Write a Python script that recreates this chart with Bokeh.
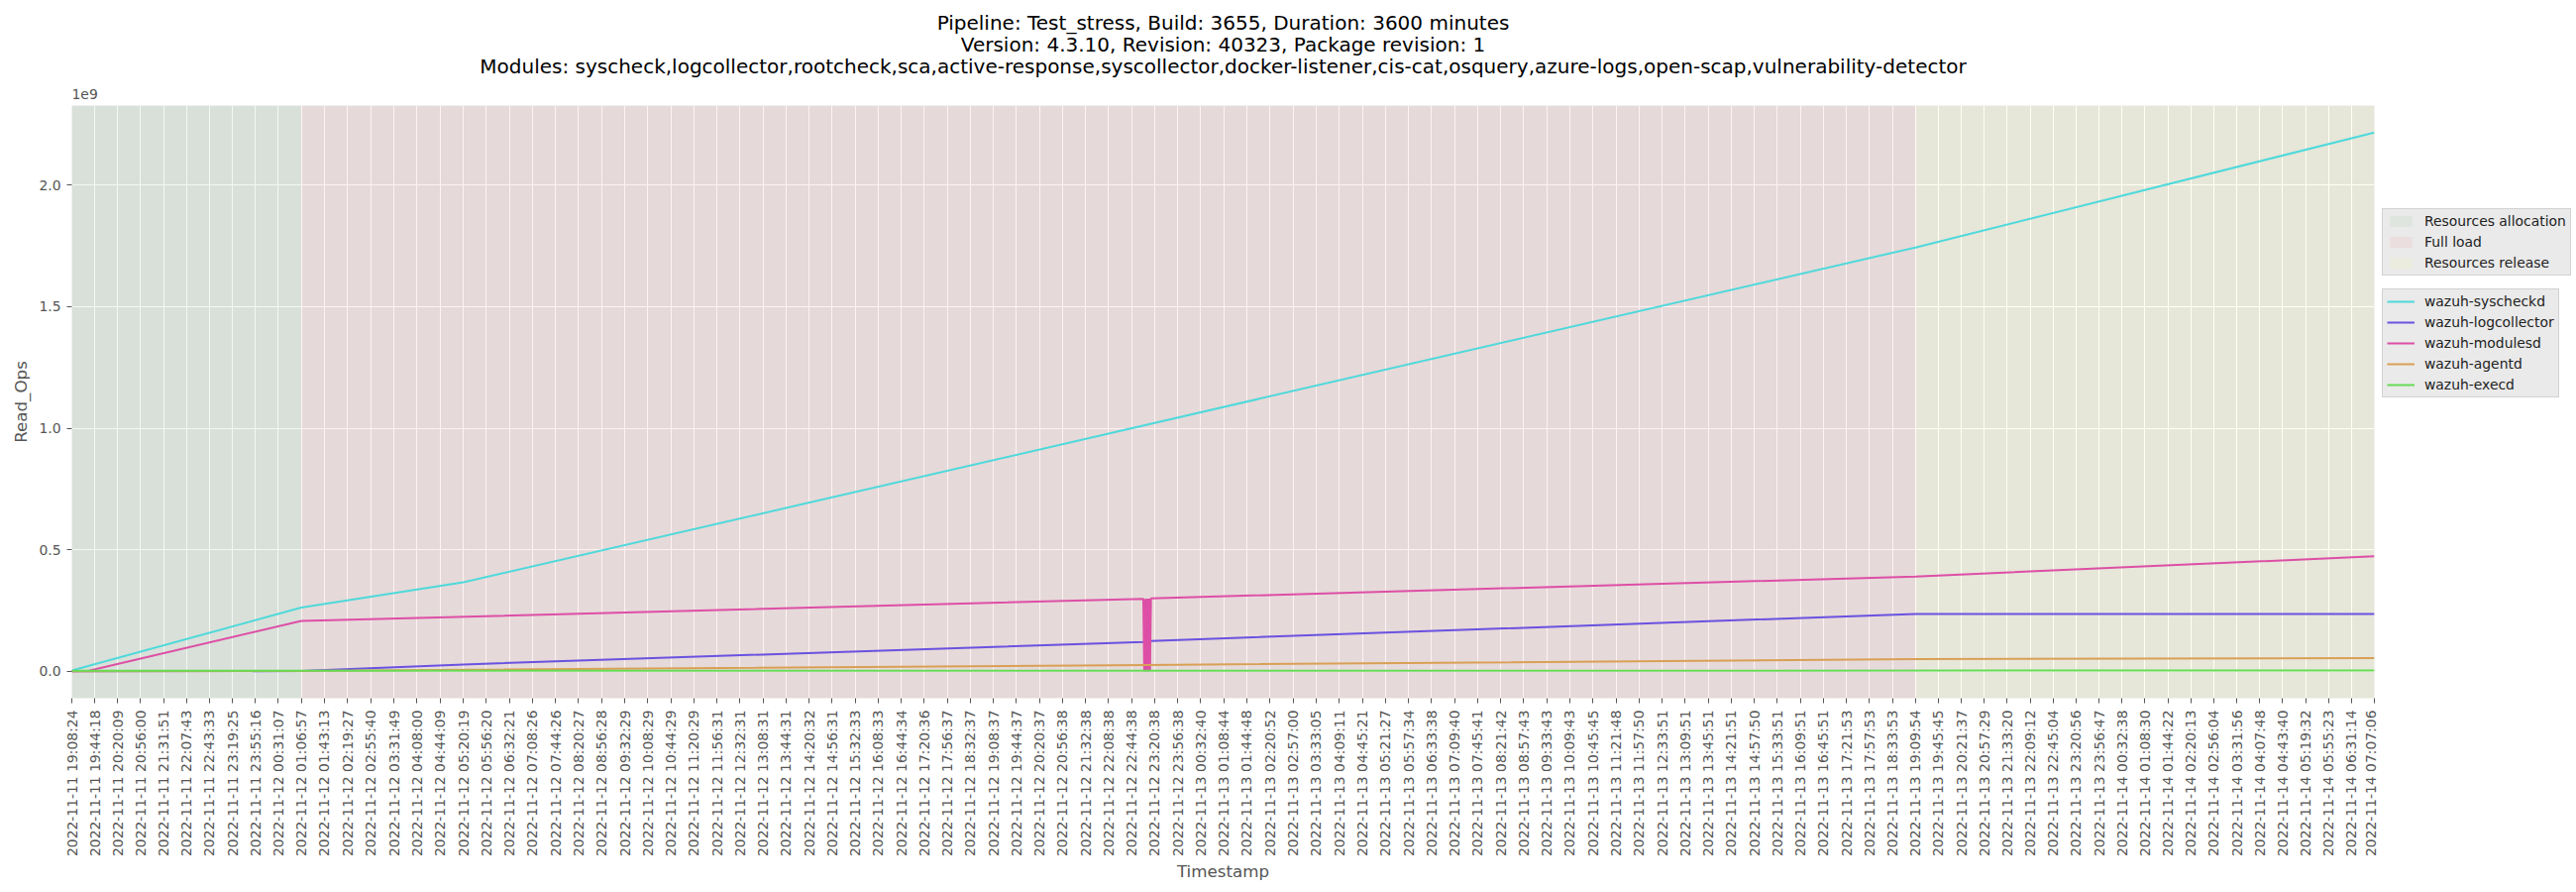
import math
import datetime as dt
from bokeh.plotting import figure
from bokeh.layouts import row
from bokeh.models import (Range1d, FixedTicker, DatetimeTickFormatter, CustomJSTickFormatter,
                          Legend, LegendItem, Title)
from bokeh.embed import file_html
from bokeh.resources import INLINE

# ---------------- data ----------------
title_lines = [
    "Pipeline: Test_stress, Build: 3655, Duration: 3600 minutes",
    "Version: 4.3.10, Revision: 40323, Package revision: 1",
    "Modules: syscheck,logcollector,rootcheck,sca,active-response,syscollector,docker-listener,cis-cat,osquery,azure-logs,open-scap,vulnerability-detector",
]

tick_labels = [
    "2022-11-11 19:08:24", "2022-11-11 19:44:18", "2022-11-11 20:20:09", "2022-11-11 20:56:00",
    "2022-11-11 21:31:51", "2022-11-11 22:07:43", "2022-11-11 22:43:33", "2022-11-11 23:19:25",
    "2022-11-11 23:55:16", "2022-11-12 00:31:07", "2022-11-12 01:06:57", "2022-11-12 01:43:13",
    "2022-11-12 02:19:27", "2022-11-12 02:55:40", "2022-11-12 03:31:49", "2022-11-12 04:08:00",
    "2022-11-12 04:44:09", "2022-11-12 05:20:19", "2022-11-12 05:56:20", "2022-11-12 06:32:21",
    "2022-11-12 07:08:26", "2022-11-12 07:44:26", "2022-11-12 08:20:27", "2022-11-12 08:56:28",
    "2022-11-12 09:32:29", "2022-11-12 10:08:29", "2022-11-12 10:44:29", "2022-11-12 11:20:29",
    "2022-11-12 11:56:31", "2022-11-12 12:32:31", "2022-11-12 13:08:31", "2022-11-12 13:44:31",
    "2022-11-12 14:20:32", "2022-11-12 14:56:31", "2022-11-12 15:32:33", "2022-11-12 16:08:33",
    "2022-11-12 16:44:34", "2022-11-12 17:20:36", "2022-11-12 17:56:37", "2022-11-12 18:32:37",
    "2022-11-12 19:08:37", "2022-11-12 19:44:37", "2022-11-12 20:20:37", "2022-11-12 20:56:38",
    "2022-11-12 21:32:38", "2022-11-12 22:08:38", "2022-11-12 22:44:38", "2022-11-12 23:20:38",
    "2022-11-12 23:56:38", "2022-11-13 00:32:40", "2022-11-13 01:08:44", "2022-11-13 01:44:48",
    "2022-11-13 02:20:52", "2022-11-13 02:57:00", "2022-11-13 03:33:05", "2022-11-13 04:09:11",
    "2022-11-13 04:45:21", "2022-11-13 05:21:27", "2022-11-13 05:57:34", "2022-11-13 06:33:38",
    "2022-11-13 07:09:40", "2022-11-13 07:45:41", "2022-11-13 08:21:42", "2022-11-13 08:57:43",
    "2022-11-13 09:33:43", "2022-11-13 10:09:43", "2022-11-13 10:45:45", "2022-11-13 11:21:48",
    "2022-11-13 11:57:50", "2022-11-13 12:33:51", "2022-11-13 13:09:51", "2022-11-13 13:45:51",
    "2022-11-13 14:21:51", "2022-11-13 14:57:50", "2022-11-13 15:33:51", "2022-11-13 16:09:51",
    "2022-11-13 16:45:51", "2022-11-13 17:21:53", "2022-11-13 17:57:53", "2022-11-13 18:33:53",
    "2022-11-13 19:09:54", "2022-11-13 19:45:45", "2022-11-13 20:21:37", "2022-11-13 20:57:29",
    "2022-11-13 21:33:20", "2022-11-13 22:09:12", "2022-11-13 22:45:04", "2022-11-13 23:20:56",
    "2022-11-13 23:56:47", "2022-11-14 00:32:38", "2022-11-14 01:08:30", "2022-11-14 01:44:22",
    "2022-11-14 02:20:13", "2022-11-14 02:56:04", "2022-11-14 03:31:56", "2022-11-14 04:07:48",
    "2022-11-14 04:43:40", "2022-11-14 05:19:32", "2022-11-14 05:55:23", "2022-11-14 06:31:14",
    "2022-11-14 07:07:06",
]

phase_names = ["Resources allocation", "Full load", "Resources release"]
phase_start = ["2022-11-11 19:08:24", "2022-11-12 01:06:57", "2022-11-13 19:09:54"]
phase_end = ["2022-11-12 01:06:57", "2022-11-13 19:09:54", "2022-11-14 07:07:06"]
phase_colors = ["green", "red", "yellow"]

syscheckd_t = ["2022-11-11 19:08:24", "2022-11-12 01:06:57", "2022-11-12 05:20:19",
               "2022-11-13 19:09:54", "2022-11-14 07:07:06"]
syscheckd_v = [0.003e9, 0.262e9, 0.366e9, 1.744e9, 2.217e9]

logcollector_t = ["2022-11-11 19:08:24", "2022-11-12 01:06:57", "2022-11-12 05:20:19",
                  "2022-11-12 23:03:00", "2022-11-12 23:15:00", "2022-11-13 19:09:54",
                  "2022-11-14 07:07:06"]
logcollector_v = [0.0, 0.001e9, 0.028e9, 0.121e9, 0.125e9, 0.236e9, 0.236e9]

modulesd_t = ["2022-11-11 19:08:24", "2022-11-11 19:35:00", "2022-11-12 01:06:57",
              "2022-11-12 23:03:00", "2022-11-12 23:04:30", "2022-11-12 23:06:00",
              "2022-11-12 23:07:30", "2022-11-12 23:09:00", "2022-11-12 23:10:30",
              "2022-11-12 23:12:00", "2022-11-12 23:13:30", "2022-11-12 23:15:00",
              "2022-11-13 19:09:54", "2022-11-14 07:07:06"]
modulesd_v = [0.0, 0.002e9, 0.207e9,
              0.298e9, 0.0, 0.298e9,
              0.0, 0.299e9, 0.0,
              0.299e9, 0.0, 0.300e9,
              0.390e9, 0.473e9]

agentd_t = ["2022-11-11 19:08:24", "2022-11-12 01:06:57", "2022-11-12 23:08:00",
            "2022-11-13 19:09:54", "2022-11-14 07:07:06"]
agentd_v = [0.0, 0.0015e9, 0.026e9, 0.050e9, 0.054e9]

execd_t = ["2022-11-11 19:08:24", "2022-11-14 07:07:06"]
execd_v = [0.002e9, 0.003e9]

series_names = ["wazuh-syscheckd", "wazuh-logcollector", "wazuh-modulesd", "wazuh-agentd", "wazuh-execd"]
series_t = [syscheckd_t, logcollector_t, modulesd_t, agentd_t, execd_t]
series_v = [syscheckd_v, logcollector_v, modulesd_v, agentd_v, execd_v]
series_colors = ["#4FD9DB", "#6A52E0", "#DD4FA6", "#D9A055", "#66DB55"]

# ---------------- helpers ----------------
EPOCH = dt.datetime(1970, 1, 1)


def ms(s):
    return (dt.datetime.strptime(s, "%Y-%m-%d %H:%M:%S") - EPOCH).total_seconds() * 1000.0


FONT = "DejaVu Sans"
GREY = "#555555"
W, H = 2600, 900
LEG_W = 200
TOP, BOTTOM = 106, 196

all_vals = [v for vs in series_v for v in vs]
ymin, ymax = min(all_vals), max(all_vals)
pad = 0.05 * (ymax - ymin)
y_lo, y_hi = ymin - pad, ymax + pad

tick_ms = [ms(s) for s in tick_labels]

p = figure(width=W - LEG_W, height=H, output_backend="svg", toolbar_location=None,
           x_axis_type="datetime",
           x_range=Range1d(tick_ms[0], tick_ms[-1]),
           y_range=Range1d(y_lo, y_hi),
           min_border_left=72, min_border_right=4, min_border_top=TOP, min_border_bottom=BOTTOM)

p.background_fill_color = "#E5E5E5"
p.border_fill_color = "white"
p.outline_line_color = None

# phases
for name, s, e, c in zip(phase_names, phase_start, phase_end, phase_colors):
    p.quad(left=[ms(s)], right=[ms(e)], bottom=[y_lo], top=[y_hi],
           fill_color=c, fill_alpha=0.05, line_color=None)

# lines
for name, ts_, vs, c in zip(series_names, series_t, series_v, series_colors):
    p.line([ms(t) for t in ts_], vs, line_color=c, line_width=2)

# axes
p.xaxis.ticker = FixedTicker(ticks=tick_ms, minor_ticks=[])
fmt = "%Y-%m-%d %H:%M:%S"
p.xaxis.formatter = DatetimeTickFormatter(
    microseconds=fmt, milliseconds=fmt, seconds=fmt, minsec=fmt, minutes=fmt,
    hourmin=fmt, hours=fmt, days=fmt, months=fmt, years=fmt)
p.xaxis.major_label_orientation = math.pi / 2
p.yaxis.ticker = FixedTicker(ticks=[0, 0.5e9, 1.0e9, 1.5e9, 2.0e9], minor_ticks=[])
p.yaxis.formatter = CustomJSTickFormatter(code="return (tick / 1e9).toFixed(1);")

for ax in (p.xaxis, p.yaxis):
    ax.axis_line_color = None
    ax.major_tick_line_color = GREY
    ax.major_tick_out = 5
    ax.major_tick_in = 0
    ax.minor_tick_line_color = None
    ax.major_label_text_font = FONT
    ax.major_label_text_font_size = "13.9px"
    ax.major_label_text_color = GREY
    ax.major_label_standoff = 6
    ax.axis_label_text_font = FONT
    ax.axis_label_text_font_size = "16.7px"
    ax.axis_label_text_font_style = "normal"
    ax.axis_label_text_color = GREY

p.xaxis.major_label_standoff = 7
p.xaxis.axis_label = "Timestamp"
p.xaxis.axis_label_standoff = 2
p.yaxis.axis_label = "Read_Ops"
p.yaxis.axis_label_standoff = 5

p.grid.grid_line_color = "white"
p.grid.grid_line_width = 1

# titles (first added is closest to the plot)
p.add_layout(Title(text="1e9", align="left", text_font=FONT, text_font_size="13.9px",
                   text_font_style="normal", text_color=GREY, standoff=12.6), "above")
title_standoffs = [4.5, -13.6, 7.7]  # line 3, line 2, line 1
for line, so in zip(reversed(title_lines), title_standoffs):
    p.add_layout(Title(text=line, align="center", text_font=FONT, text_font_size="20px",
                       text_font_style="normal", text_color="black", standoff=so), "above")

# legend panel (separate narrow figure to the right; its frame aligns with the plot's)
q = figure(width=LEG_W, height=H, output_backend="svg", toolbar_location=None,
           x_range=Range1d(0, 1), y_range=Range1d(0, 1), min_border=0)
q.axis.visible = False
q.grid.visible = False
q.outline_line_color = None
q.background_fill_color = "white"
q.border_fill_color = "white"

phase_items = []
for name, c in zip(phase_names, phase_colors):
    r = q.quad(left=[5], right=[6], bottom=[5], top=[6], fill_color=c, fill_alpha=0.05, line_color=None)
    phase_items.append(LegendItem(label=name, renderers=[r]))
line_items = []
for name, c in zip(series_names, series_colors):
    r = q.line([5, 6], [5, 6], line_color=c, line_width=2)
    line_items.append(LegendItem(label=name, renderers=[r]))


def style_legend(lg):
    lg.label_text_font = FONT
    lg.label_text_font_size = "13.9px"
    lg.label_text_color = "#222222"
    lg.glyph_width = 28
    lg.glyph_height = 14
    lg.label_height = 14
    lg.spacing = 5
    lg.padding = 4
    lg.margin = 0
    lg.label_standoff = 10
    lg.background_fill_color = "#E5E5E5"
    lg.background_fill_alpha = 0.8
    lg.border_line_color = "#CCCCCC"
    lg.border_line_alpha = 0.8


frame_bottom = H - BOTTOM
leg1 = Legend(items=phase_items, location=(4, frame_bottom - 278))
leg2 = Legend(items=line_items, location=(4, frame_bottom - 401))
style_legend(leg1)
style_legend(leg2)
q.add_layout(leg1)
q.add_layout(leg2)

layout = row(p, q)
open("out.html", "w").write(file_html(layout, INLINE))
